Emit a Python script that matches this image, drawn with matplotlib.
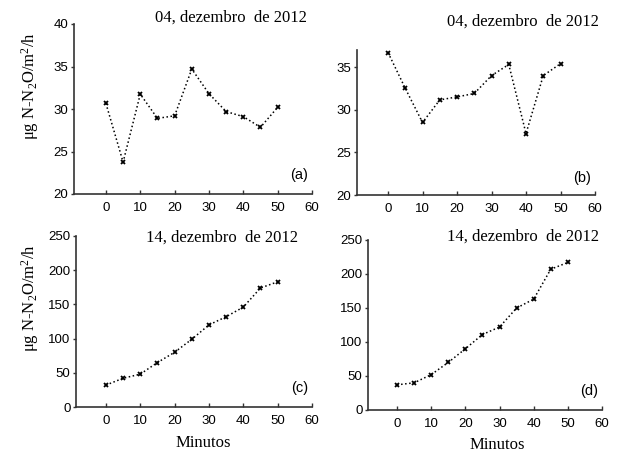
import matplotlib
matplotlib.use("Agg")
import matplotlib.pyplot as plt

plt.rcParams["mathtext.fontset"] = "custom"
plt.rcParams["mathtext.rm"] = "Liberation Serif"
plt.rcParams["mathtext.it"] = "Liberation Serif:italic"

minutos = [0, 5, 10, 15, 20, 25, 30, 35, 40, 45, 50]

serie_a = [30.65, 23.75, 31.75, 28.9, 29.2, 34.7, 31.8, 29.7, 29.1, 27.85, 30.2]
serie_b = [36.7, 32.5, 28.5, 31.15, 31.5, 31.9, 34.0, 35.3, 27.2, 34.0, 35.4]
serie_c = [32, 42, 48, 65, 80, 99, 120, 132, 146, 174, 183]
serie_d = [37, 40, 52, 70, 90, 111, 122, 150, 163, 207, 217]

datas = ["04, dezembro  de 2012", "04, dezembro  de 2012",
         "14, dezembro  de 2012", "14, dezembro  de 2012"]
letras = ["(a)", "(b)", "(c)", "(d)"]
ylabel = "μg N-N$\\mathrm{_2}$O/m$\\mathrm{^2}$/h"
xlabel = "Minutos"

W, H = 617, 453
fig = plt.figure(figsize=(W / 100, H / 100), dpi=100)


def px(x0, y0, x1, y1):
    # pixel box -> figure fraction [left, bottom, width, height]
    return [x0 / W, 1 - y1 / H, (x1 - x0) / W, (y1 - y0) / H]


caixas = [px(74, 24, 312, 194), px(357, 50, 595, 195),
          px(76, 236, 312, 407), px(368, 240, 602, 410)]
limites_y = [(20, 40), (20, 37), (0, 250), (0, 250)]
ticks_y = [[20, 25, 30, 35, 40], [20, 25, 30, 35], [0, 50, 100, 150, 200, 250],
           [0, 50, 100, 150, 200, 250]]
limites_x = [(-9.3, 60), (-9, 60), (-8.7, 60), (-8.5, 60)]
series = [serie_a, serie_b, serie_c, serie_d]

sans = "Liberation Sans"
serif = "Liberation Serif"

for i, ax_box in enumerate(caixas):
    ax = fig.add_axes(ax_box)
    ax.plot(minutos, series[i], linestyle=":", color="black", lw=1.1,
            marker="x", ms=3.5, mew=1.3)
    ax.set_xlim(*limites_x[i])
    ax.set_ylim(*limites_y[i])
    ax.set_xticks([0, 10, 20, 30, 40, 50, 60])
    ax.set_yticks(ticks_y[i])
    for s in ["top", "right"]:
        ax.spines[s].set_visible(False)
    for s in ["left", "bottom"]:
        ax.spines[s].set_color("#333333")
        ax.spines[s].set_linewidth(1.2)
    ax.tick_params(axis="x", direction="in", length=3, width=1, pad=6,
                   labelsize=9.5, colors="#333333", labelcolor="black")
    ax.tick_params(axis="y", direction="out", length=2, width=1, pad=2,
                   labelsize=9.5, colors="#333333", labelcolor="black")
    for lab in ax.get_xticklabels() + ax.get_yticklabels():
        lab.set_fontfamily(sans)
    ax.text(0.985, 0.07, letras[i], transform=ax.transAxes, ha="right",
            va="bottom", fontsize=10.5, family=sans)

# datas no topo de cada painel
fig.text(307 / W, 1 - 18 / H, datas[0], ha="right", va="center",
         fontsize=12, family=serif)
fig.text(599 / W, 1 - 22 / H, datas[1], ha="right", va="center",
         fontsize=12, family=serif)
fig.text(298 / W, 1 - 238 / H, datas[2], ha="right", va="center",
         fontsize=12, family=serif)
fig.text(599 / W, 1 - 237 / H, datas[3], ha="right", va="center",
         fontsize=12, family=serif)

fig.text(30 / W, 1 - 86 / H, ylabel, rotation=90, ha="center", va="center",
         fontsize=12, family=serif)
fig.text(30 / W, 1 - 298 / H, ylabel, rotation=90, ha="center", va="center",
         fontsize=12, family=serif)
fig.text(203 / W, 1 - 443 / H, xlabel, ha="center", va="center",
         fontsize=12, family=serif)
fig.text(497 / W, 1 - 445 / H, xlabel, ha="center", va="center",
         fontsize=12, family=serif)

fig.savefig("out.png", dpi=100, facecolor="white")
